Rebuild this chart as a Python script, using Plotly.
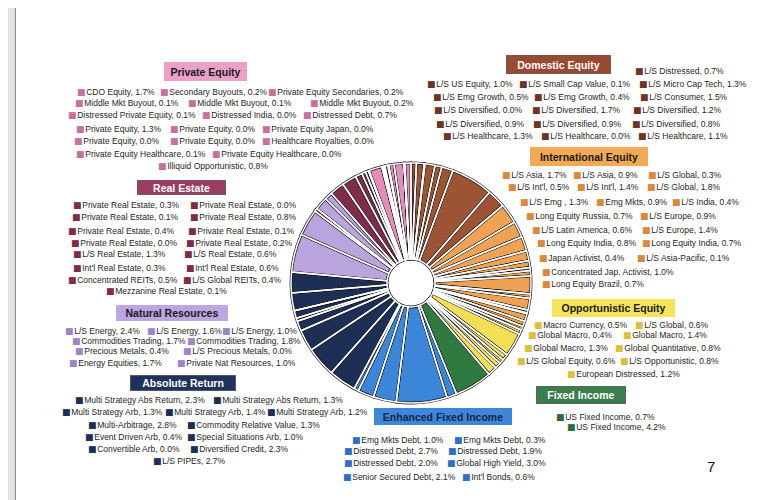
import plotly.graph_objects as go

W, H = 770, 500

# ---------------- DATA ----------------
dom_names = ["L/S Distressed", "L/S US Equity", "L/S Small Cap Value", "L/S Micro Cap Tech",
             "L/S Emg Growth", "L/S Emg Growth", "L/S Consumer",
             "L/S Diversified", "L/S Diversified", "L/S Diversified",
             "L/S Diversified", "L/S Diversified", "L/S Diversified",
             "L/S Healthcare", "L/S Healthcare", "L/S Healthcare"]
dom_values = [0.7, 1.0, 0.1, 1.3, 0.5, 0.4, 1.5, 0.0, 1.7, 1.2, 0.9, 0.9, 0.8, 1.3, 0.0, 1.1]

intl_names = ["L/S Asia", "L/S Asia", "L/S Global", "L/S Int'l", "L/S Int'l", "L/S Global",
              "L/S Emg ", "Emg Mkts", "L/S India", "Long Equity Russia", "L/S Europe",
              "L/S Latin America", "L/S Europe", "Long Equity India", "Long Equity India",
              "Japan Activist", "L/S Asia-Pacific", "Concentrated Jap. Activist", "Long Equity Brazil"]
intl_values = [1.7, 0.9, 0.3, 0.5, 1.4, 1.8, 1.3, 0.9, 0.4, 0.7, 0.9, 0.6, 1.4, 0.8, 0.7, 0.4, 0.1, 1.0, 0.7]

opp_names = ["Macro Currency", "L/S Global", "Global Macro", "Global Macro", "Global Macro",
             "Global Quantitative", "L/S Global Equity", "L/S Opportunistic", "European Distressed"]
opp_values = [0.5, 0.6, 0.4, 1.4, 1.3, 0.8, 0.6, 0.8, 1.2]

fi_names = ["US Fixed Income", "US Fixed Income"]
fi_values = [0.7, 4.2]

efi_names = ["Emg Mkts Debt", "Emg Mkts Debt", "Distressed Debt", "Distressed Debt",
             "Distressed Debt", "Global High Yield", "Senior Secured Debt", "Int'l Bonds"]
efi_values = [1.0, 0.3, 2.7, 1.9, 2.0, 3.0, 2.1, 0.6]

abs_names = ["Multi Strategy Abs Return", "Multi Strategy Abs Return", "Multi Strategy Arb",
             "Multi Strategy Arb", "Multi Strategy Arb", "Multi-Arbitrage", "Commodity Relative Value",
             "Event Driven Arb", "Special Situations Arb", "Convertible Arb", "Diversified Credit", "L/S PIPEs"]
abs_values = [2.3, 1.3, 1.3, 1.4, 1.2, 2.8, 1.3, 0.4, 1.0, 0.0, 2.3, 2.7]

nat_names = ["L/S Energy", "L/S Energy", "L/S Energy", "Commodities Trading", "Commodities Trading",
             "Precious Metals", "L/S Precious Metals", "Energy Equities", "Private Nat Resources"]
nat_values = [2.4, 1.6, 1.0, 1.7, 1.8, 0.4, 0.0, 1.7, 1.0]

re_names = ["Private Real Estate"] * 8 + ["L/S Real Estate", "L/S Real Estate", "Int'l Real Estate",
            "Int'l Real Estate", "Concentrated REITs", "L/S Global REITs", "Mezzanine Real Estate"]
re_values = [0.3, 0.0, 0.1, 0.8, 0.4, 0.1, 0.0, 0.2, 1.3, 0.6, 0.3, 0.6, 0.5, 0.4, 0.1]

pe_names = ["CDO Equity", "Secondary Buyouts", "Private Equity Secondaries",
            "Middle Mkt Buyout", "Middle Mkt Buyout", "Middle Mkt Buyout",
            "Distressed Private Equity", "Distressed India", "Distressed Debt",
            "Private Equity", "Private Equity", "Private Equity Japan",
            "Private Equity", "Private Equity", "Healthcare Royalties",
            "Private Equity Healthcare", "Private Equity Healthcare", "Illiquid Opportunistic"]
pe_values = [1.7, 0.2, 0.2, 0.1, 0.1, 0.2, 0.1, 0.0, 0.7, 1.3, 0.0, 0.0, 0.0, 0.0, 0.0, 0.1, 0.0, 0.8]

categories = ["Domestic Equity", "International Equity", "Opportunistic Equity", "Fixed Income",
              "Enhanced Fixed Income", "Absolute Return", "Natural Resources", "Real Estate", "Private Equity"]
cat_names = [dom_names, intl_names, opp_names, fi_names, efi_names, abs_names, nat_names, re_names, pe_names]
cat_values = [dom_values, intl_values, opp_values, fi_values, efi_values, abs_values, nat_values, re_values, pe_values]

# ---------------- STYLE / LAYOUT ----------------
slice_colors = ["#9C5435", "#EFA253", "#F3DF55", "#2F7A40", "#3C86DA",
                "#1D2F55", "#B9A4DD", "#7E2C4A", "#E48DBA"]
square_colors = ["#6E3424", "#D8893A", "#D9C23A", "#2F6A3C", "#2F70C4",
                 "#1D2F55", "#9C86C8", "#7E2C4A", "#C96F9E"]
title_style = {  # box (x0, y0, x1, y1) in pixels, bg, text colour
    "Domestic Equity": ((498, 47, 603, 66), "#9A4A32", "white"),
    "International Equity": ((522, 139, 640, 158), "#F2AA55", "#1a1a1a"),
    "Opportunistic Equity": ((544, 291, 667, 309), "#F5E35A", "#1a1a1a"),
    "Fixed Income": ((528, 378, 618, 396), "#3B7D4B", "white"),
    "Enhanced Fixed Income": ((366, 400, 504, 417), "#3D86D9", "#16264a"),
    "Absolute Return": ((122, 367, 228, 383), "#1E325C", "white"),
    "Natural Resources": ((108, 297, 220, 313), "#BBA6E2", "#1a1a1a"),
    "Real Estate": ((129, 172, 218, 187), "#9E3D62", "white"),
    "Private Equity": ((156, 54, 239, 73), "#EBA0C8", "#1a1a1a"),
}
# legend rows: (y pixel, [left x pixels])
item_rows = {
    "Domestic Equity": [(63, [625]), (76, [417, 509, 629]), (89, [423, 524, 630]),
                        (102, [424, 522, 623]), (116, [426, 523, 622]), (128, [433, 531, 628])],
    "International Equity": [(167, [492, 563, 638]), (179, [498, 567, 637]), (194, [510, 586, 662]),
                             (208, [516, 630]), (222, [522, 632]), (235, [527, 632]),
                             (250, [529, 627]), (264, [532]), (276, [532])],
    "Opportunistic Equity": [(317, [524, 625]), (327, [518, 613]), (340, [514, 605]),
                             (353, [507, 610]), (366, [557])],
    "Fixed Income": [(409, [546]), (419, [557])],
    "Enhanced Fixed Income": [(432, [342, 444]), (443, [334, 438]), (455, [334, 437]), (469, [333, 452])],
    "Absolute Return": [(392, [65, 203]), (404, [52, 155, 257]), (417, [78, 177]),
                        (429, [75, 177]), (441, [78, 180]), (453, [143])],
    "Natural Resources": [(323, [55, 137, 212]), (333, [62, 177]), (343, [65, 173]), (355, [59, 167])],
    "Real Estate": [(197, [63, 180]), (209, [62, 180]), (223, [58, 178]), (235, [61, 176]),
                    (246, [63, 174]), (260, [63, 176]), (272, [58, 173]), (283, [96])],
    "Private Equity": [(84, [67, 150, 258]), (95, [65, 178, 300]), (107, [58, 192, 293]),
                       (121, [66, 160, 252]), (133, [64, 160, 252]), (146, [66, 202]), (158, [148])],
}

FONT = "Liberation Sans, Arial, sans-serif"

def px(x):
    return x / W

def py(y):
    return 1 - y / H

# flatten pie data
labels, values, colors = [], [], []
for ci, cat in enumerate(categories):
    for n, v in zip(cat_names[ci], cat_values[ci]):
        labels.append(f"{cat}: {n}")
        values.append(v)
        colors.append(slice_colors[ci])

cx, cy, r = 403, 275, 120
domain = dict(x=[px(cx - r), px(cx + r)], y=[py(cy + r), py(cy - r)])

fig = go.Figure()
fig.add_trace(go.Pie(
    labels=labels, values=values, sort=False, direction="clockwise", rotation=0,
    hole=0.2, domain=domain, textinfo="none", showlegend=False,
    marker=dict(colors=colors, line=dict(color="#161616", width=2.8)),
))
fig.add_trace(go.Pie(
    labels=labels, values=values, sort=False, direction="clockwise", rotation=0,
    hole=0.2, domain=domain, textinfo="none", showlegend=False, hoverinfo="skip",
    marker=dict(colors=["rgba(0,0,0,0)"] * len(values), line=dict(color="white", width=1.5)),
))

annotations = []
for ci, cat in enumerate(categories):
    (x0, y0, x1, y1), bg, tc = title_style[cat]
    annotations.append(dict(
        x=px((x0 + x1) / 2), y=py((y0 + y1) / 2), xref="paper", yref="paper",
        xanchor="center", yanchor="middle", showarrow=False,
        text=f"<b>{cat}</b>", font=dict(family=FONT, size=10.5, color=tc),
        bgcolor=bg, bordercolor="rgba(40,40,40,0.6)" if tc == "white" else bg,
        borderwidth=1, borderpad=0, width=x1 - x0 - 2, height=y1 - y0 - 2,
    ))
    k = 0
    for (yrow, xs) in item_rows[cat]:
        for xl in xs:
            n = cat_names[ci][k]
            v = cat_values[ci][k]
            k += 1
            annotations.append(dict(
                x=px(xl), y=py(yrow), xref="paper", yref="paper",
                xanchor="left", yanchor="middle", showarrow=False,
                text=(f"<span style='font-family:DejaVu Sans;font-size:9px;color:{square_colors[ci]}'>"
                      f"\u25A0</span>\u200A{n}, {v:.1f}%"),
                font=dict(family=FONT, size=8.5, color="#1e1e1e"),
            ))

annotations.append(dict(x=px(703), y=py(458), xref="paper", yref="paper", showarrow=False,
                        xanchor="center", yanchor="middle", text="7",
                        font=dict(family=FONT, size=15, color="#111")))

shapes = [
    dict(type="rect", xref="paper", yref="paper", x0=0, x1=px(7), y0=0, y1=1,
         fillcolor="#e2e2e2", line=dict(width=0), layer="below"),
    dict(type="line", xref="paper", yref="paper", x0=px(7.5), x1=px(7.5), y0=0, y1=1,
         line=dict(color="#8a8a8a", width=1)),
]

fig.update_layout(
    width=W, height=H, margin=dict(l=0, r=0, t=0, b=0),
    paper_bgcolor="white", plot_bgcolor="white",
    annotations=annotations, shapes=shapes, showlegend=False,
)

fig.write_html("out.html")
